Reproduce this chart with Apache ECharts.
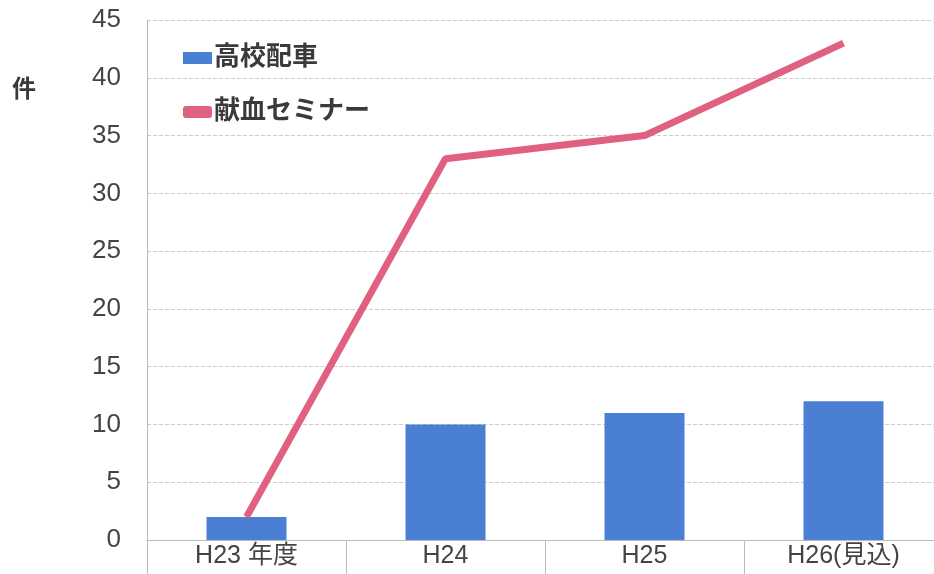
<!DOCTYPE html>
<html><head><meta charset="utf-8">
<script src="https://cdn.jsdelivr.net/npm/echarts@6/dist/echarts.min.js"></script>
<style>html,body{margin:0;padding:0;background:#fff;overflow:hidden;width:934px;height:574px}#c{width:946px;height:574px}</style>
</head><body><div id="c"></div>
<script>
const categories = ['H23 年度', 'H24', 'H25', 'H26(見込)'];
const busValues = [2, 10, 11, 12];
const seminarValues = [2, 33, 35, 43];
const yTicks = [0, 5, 10, 15, 20, 25, 30, 35, 40, 45];
const seriesNames = ['高校配車', '献血セミナー'];

const chart = echarts.init(document.getElementById('c'));
const font = '"Liberation Sans", "Noto Sans CJK JP", sans-serif';
chart.setOption({
  backgroundColor: '#fff',
  animation: false,
  grid: { left: 147, top: 20, width: 796, height: 520 },
  legend: {
    orient: 'vertical', left: 178, top: 40, itemGap: 28,
    itemWidth: 29, itemHeight: 12,
    textStyle: { fontFamily: font, fontSize: 26, fontWeight: 'bold', color: '#3a3a3a', padding: [0, 0, 0, -3] },
    data: [
      { name: seriesNames[0], icon: 'rect' },
      { name: seriesNames[1], icon: 'roundRect', itemStyle: { color: '#e06080' } }
    ]
  },
  graphic: [{ type: 'text', left: 12, top: 78, style: { text: '件', fontFamily: font, fontSize: 24, fontWeight: 'bold', fill: '#3a3a3a' } }],
  xAxis: {
    type: 'category', data: categories,
    axisLine: { lineStyle: { color: '#bbb' } },
    axisTick: { show: true, length: 34, lineStyle: { color: '#bbb' } },
    axisLabel: { fontFamily: font, fontSize: 25, color: '#444', margin: 4 }
  },
  yAxis: {
    type: 'value', min: yTicks[0], max: yTicks[yTicks.length - 1], interval: 5,
    axisLine: { show: true, lineStyle: { color: '#bbb' } },
    axisTick: { show: false },
    axisLabel: { fontFamily: font, fontSize: 26, color: '#444', margin: 26 },
    splitLine: { lineStyle: { color: '#ccc', type: 'dashed' } }
  },
  series: [
    { name: seriesNames[0], type: 'bar', data: busValues, barWidth: 80, itemStyle: { color: '#4a7fd4' } },
    { name: seriesNames[1], type: 'line', data: seminarValues, symbol: 'none',
      lineStyle: { color: '#e06080', width: 7 }, itemStyle: { color: '#e06080' } }
  ]
});
</script></body></html>
